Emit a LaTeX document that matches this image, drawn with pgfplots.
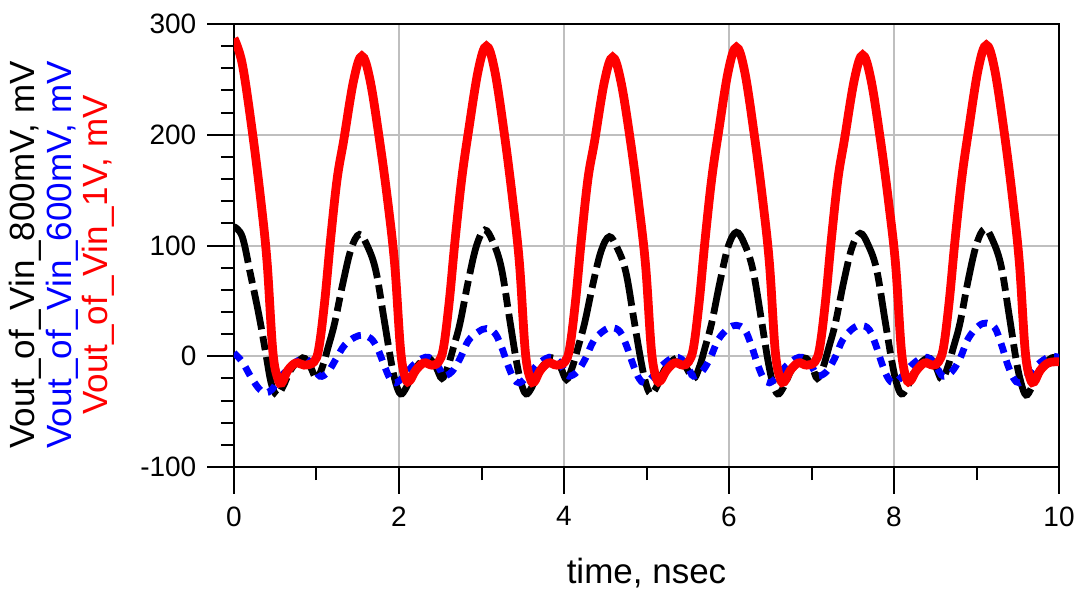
\documentclass[border=0pt]{standalone}
\usepackage{fontspec}
\setmainfont{Liberation Sans}
\usepackage{pgfplots}
\pgfplotsset{compat=1.18}

\begin{document}
\begin{tikzpicture}
\begin{axis}[
  scale only axis, width=412.5pt, height=221.5pt,
  xmin=0, xmax=10, ymin=-100, ymax=300,
  xtick={0,2,...,10}, ytick={-100,0,...,300},
  minor x tick num=1, minor y tick num=4,
  tick align=outside, xtick pos=bottom, ytick pos=left,
  major tick length=13.3pt, minor tick length=6.5pt,
  tick style={black, line width=1pt},
  grid=major, major grid style={color=black!25, line width=1pt},
  axis line style={line width=1.2pt},
  /pgf/number format/assume math mode=true,
  ticklabel style={font=\fontsize{14}{16}\selectfont},
  xticklabel style={yshift=-3pt},
  yticklabel style={xshift=-2pt},
  xlabel={time, nsec},
  xlabel style={font=\fontsize{17.5}{20}\selectfont, at={(axis description cs:0.5,-0.24)}, anchor=center},
  ylabel={\textcolor{black}{Vout\_of\_Vin\_800mV, mV}\\\textcolor{blue}{Vout\_of\_Vin\_600mV, mV}\\\textcolor{red}{Vout\_of\_Vin\_1V, mV}},
  ylabel style={font=\fontsize{17.5}{18.3}\selectfont, align=center, at={(axis description cs:-0.2085,0.4786)}, anchor=center},
]
\coordinate (bl) at (rel axis cs:0,0);

% Vout_of_Vin_800mV
\addplot[black, line width=3.4pt, dash pattern=on 20pt off 3.5pt on 7pt off 3.5pt, smooth, tension=0.6] coordinates {
(0.00,117) (0.10,108) (0.20,74) (0.30,38) (0.38,5) (0.45,-24) (0.52,-35) (0.59,-28) (0.69,-12) (0.80,-3) (0.86,-2) (0.93,-10)
(1.00,-20) (1.07,-10) (1.14,8) (1.22,30) (1.32,66) (1.42,97) (1.52,110) (1.62,99) (1.72,77) (1.82,33) (1.90,-3) (1.96,-24) (2.02,-34) (2.09,-28) (2.19,-12) (2.30,-3) (2.37,-2) (2.45,-10)
(2.52,-20) (2.59,-10) (2.66,8) (2.74,30) (2.84,68) (2.94,100) (3.04,114) (3.14,103) (3.24,80) (3.34,34) (3.42,-3) (3.48,-24) (3.54,-34) (3.61,-28) (3.71,-12) (3.82,-3) (3.89,-2) (3.96,-10)
(4.03,-21) (4.10,-10) (4.17,8) (4.25,30) (4.35,65) (4.45,95) (4.55,108) (4.65,97) (4.75,76) (4.85,32) (4.93,-3) (4.99,-24) (5.05,-34) (5.12,-28) (5.22,-12) (5.33,-3) (5.40,-2) (5.48,-10)
(5.57,-20) (5.64,-10) (5.71,8) (5.79,30) (5.89,67) (5.99,99) (6.09,112) (6.19,101) (6.29,78) (6.39,34) (6.47,-3) (6.53,-24) (6.59,-34) (6.66,-28) (6.76,-12) (6.87,-3) (6.94,-2) (7.01,-10)
(7.07,-20) (7.14,-10) (7.21,8) (7.29,30) (7.39,67) (7.49,98) (7.59,111) (7.69,100) (7.79,78) (7.89,33) (7.97,-3) (8.03,-24) (8.09,-34) (8.16,-28) (8.26,-12) (8.37,-3) (8.44,-2) (8.51,-10)
(8.58,-21) (8.65,-10) (8.72,8) (8.80,30) (8.90,69) (9.00,101) (9.10,115) (9.20,104) (9.30,81) (9.40,35) (9.48,-3) (9.54,-24) (9.60,-35) (9.67,-28) (9.77,-12) (9.88,-3) (9.94,-1) (10.00,-2)
};

% Vout_of_Vin_600mV
\addplot[blue, line width=3.4pt, dash pattern=on 5pt off 4pt, smooth, tension=0.6] coordinates {
(0.00,3) (0.10,-5) (0.20,-18) (0.30,-29) (0.38,-33) (0.46,-30) (0.55,-20) (0.65,-12) (0.75,-5) (0.86,-2) (0.95,-8) (1.04,-18)
(1.14,-14) (1.24,-2) (1.34,10) (1.46,17) (1.56,19) (1.66,16) (1.74,7) (1.82,-8) (1.89,-20) (1.96,-24) (2.06,-18) (2.16,-9) (2.28,-2) (2.36,-1) (2.44,-5) (2.51,-14)
(2.54,-18) (2.64,-14) (2.74,-2) (2.84,14) (2.96,22) (3.06,25) (3.16,21) (3.24,9) (3.32,-8) (3.39,-20) (3.46,-24) (3.56,-18) (3.66,-9) (3.78,-2) (3.86,-1) (3.94,-5) (4.01,-14)
(4.06,-18) (4.16,-14) (4.26,-2) (4.36,14) (4.48,23) (4.58,26) (4.68,22) (4.76,9) (4.84,-8) (4.91,-20) (4.98,-24) (5.08,-18) (5.18,-9) (5.30,-2) (5.38,-1) (5.46,-5) (5.53,-14)
(5.57,-18) (5.67,-14) (5.77,-2) (5.87,15) (5.99,25) (6.09,28) (6.19,24) (6.27,10) (6.35,-8) (6.42,-20) (6.49,-24) (6.59,-18) (6.69,-9) (6.81,-2) (6.89,-1) (6.97,-5) (7.04,-14)
(7.08,-18) (7.18,-14) (7.28,-2) (7.38,15) (7.50,25) (7.60,28) (7.70,24) (7.78,10) (7.86,-8) (7.93,-20) (8.00,-24) (8.10,-18) (8.20,-9) (8.32,-2) (8.40,-1) (8.48,-5) (8.55,-14)
(8.60,-18) (8.70,-14) (8.80,-2) (8.90,16) (9.02,27) (9.12,30) (9.22,26) (9.30,11) (9.38,-8) (9.45,-20) (9.52,-24) (9.62,-18) (9.72,-9) (9.84,-2) (9.92,0) (10.00,-1)
};

% Vout_of_Vin_1V
\addplot[red, line width=4.4pt, smooth, tension=0.6] coordinates {
(0.00,287) (0.10,264) (0.22,204) (0.32,144) (0.40,86) (0.47,5) (0.53,-20) (0.58,-24) (0.65,-13) (0.75,-6) (0.85,-8)
(0.97,-5) (1.03,8) (1.10,50) (1.17,105) (1.25,160) (1.33,195) (1.45,249) (1.55,271) (1.65,249) (1.77,192) (1.87,136) (1.95,81) (2.02,5) (2.08,-20) (2.13,-22) (2.20,-13) (2.30,-6) (2.40,-8)
(2.48,-5) (2.54,8) (2.61,50) (2.68,105) (2.76,160) (2.84,202) (2.96,258) (3.06,280) (3.16,258) (3.28,199) (3.38,140) (3.46,84) (3.53,5) (3.59,-20) (3.64,-23) (3.71,-13) (3.81,-6) (3.91,-8)
(4.01,-5) (4.07,8) (4.14,50) (4.21,105) (4.29,160) (4.37,194) (4.49,248) (4.59,270) (4.69,248) (4.81,192) (4.91,135) (4.99,81) (5.06,5) (5.12,-20) (5.17,-22) (5.24,-13) (5.34,-6) (5.44,-8)
(5.51,-5) (5.57,8) (5.64,50) (5.71,105) (5.79,160) (5.87,201) (5.99,257) (6.09,279) (6.19,257) (6.31,198) (6.41,140) (6.49,84) (6.56,5) (6.62,-20) (6.67,-23) (6.74,-13) (6.84,-6) (6.94,-8)
(7.04,-5) (7.10,8) (7.17,50) (7.24,105) (7.32,160) (7.40,196) (7.52,250) (7.62,272) (7.72,250) (7.84,193) (7.94,136) (8.02,82) (8.09,5) (8.15,-20) (8.20,-22) (8.27,-13) (8.37,-6) (8.47,-8)
(8.54,-5) (8.60,8) (8.67,50) (8.74,105) (8.82,160) (8.90,202) (9.02,259) (9.12,281) (9.22,259) (9.34,200) (9.44,141) (9.52,84) (9.59,5) (9.65,-20) (9.70,-23) (9.77,-13) (9.87,-6) (10.00,-5)
};
\end{axis}
\pgfresetboundingbox
\path (bl) ++(-117pt,-64.5pt) rectangle ++(537.5pt,298pt);
\end{tikzpicture}
\end{document}
